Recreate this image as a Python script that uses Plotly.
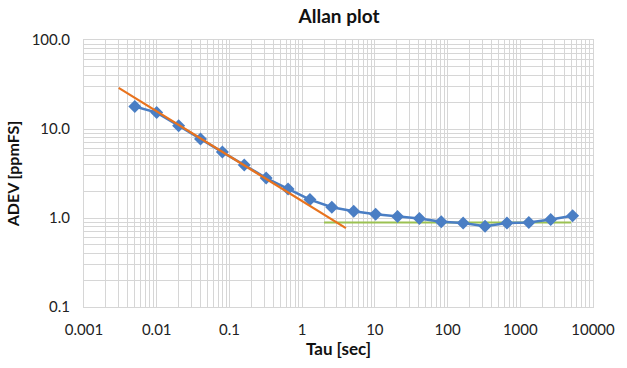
import plotly.graph_objects as go

tau = [0.005, 0.01, 0.02, 0.04, 0.08, 0.16, 0.32, 0.64, 1.28, 2.56, 5.12, 10.24,
       20.48, 40.96, 81.92, 163.84, 327.68, 655.36, 1310.72, 2621.44, 5242.88]
adev = [17.9, 15.3, 10.9, 7.7, 5.5, 3.94, 2.81, 2.12, 1.61, 1.32, 1.19, 1.10,
        1.04, 0.99, 0.91, 0.88, 0.81, 0.88, 0.89, 0.96, 1.06]

slope_tau = [0.003, 4.0]
slope_adev = [29.0, 0.77]

floor_tau = [2.0, 5000.0]
floor_adev = [0.89, 0.89]

y_ticks = [0.1, 1, 10, 100]
y_ticktext = ["0.1", "1.0", "10.0", "100.0"]
x_ticks = [0.001, 0.01, 0.1, 1, 10, 100, 1000, 10000]
x_ticktext = ["0.001", "0.01", "0.1", "1", "10", "100", "1000", "10000"]

FONT = "Lato"
GRID = "#d6d6d6"

fig = go.Figure()
fig.add_trace(go.Scatter(x=floor_tau, y=floor_adev, mode="lines",
                         line=dict(color="#9BC152", width=2), showlegend=False))
fig.add_trace(go.Scatter(x=tau, y=adev, mode="lines+markers",
                         line=dict(color="#4A7EC4", width=2.5),
                         marker=dict(symbol="diamond", size=10, color="#4A7EC4"),
                         showlegend=False))
fig.add_trace(go.Scatter(x=slope_tau, y=slope_adev, mode="lines",
                         line=dict(color="#E8731E", width=2.2), showlegend=False))

fig.update_layout(
    width=627, height=368,
    margin=dict(l=84, r=25, t=40, b=61),
    paper_bgcolor="white", plot_bgcolor="white",
    font=dict(family=FONT, size=15, color="#222"),
    title=dict(text="<b>Allan plot</b>", x=339 / 627,
               xanchor="center", y=1 - 16 / 368, yanchor="middle",
               font=dict(family=FONT, size=19, color="#111")),
)
fig.update_xaxes(
    type="log", range=[-3, 4],
    tickvals=x_ticks, ticktext=x_ticktext,
    showgrid=True, gridcolor=GRID, gridwidth=1,
    minor=dict(dtick="D1", showgrid=True, gridcolor=GRID, gridwidth=1),
    showline=True, linecolor=GRID, linewidth=1, mirror=True,
    ticks="", ticklabelstandoff=9, zeroline=False,
    tickfont=dict(family=FONT, size=15, color="#222"),
    title=dict(text="<b>Tau [sec]</b>", standoff=6,
               font=dict(family=FONT, size=17, color="#111")),
)
fig.update_yaxes(
    type="log", range=[-1, 2],
    tickvals=y_ticks, ticktext=y_ticktext,
    showgrid=True, gridcolor=GRID, gridwidth=1,
    minor=dict(dtick="D1", showgrid=True, gridcolor=GRID, gridwidth=1),
    showline=True, linecolor=GRID, linewidth=1, mirror=True,
    ticks="", ticklabelstandoff=10, zeroline=False,
    tickfont=dict(family=FONT, size=15, color="#222"),
    title=dict(text="<b>ADEV [ppmFS]</b>", standoff=8,
               font=dict(family=FONT, size=16, color="#111")),
)

fig.write_html("out.html", config={"displayModeBar": False},
               post_script="document.body.style.margin='0';")
